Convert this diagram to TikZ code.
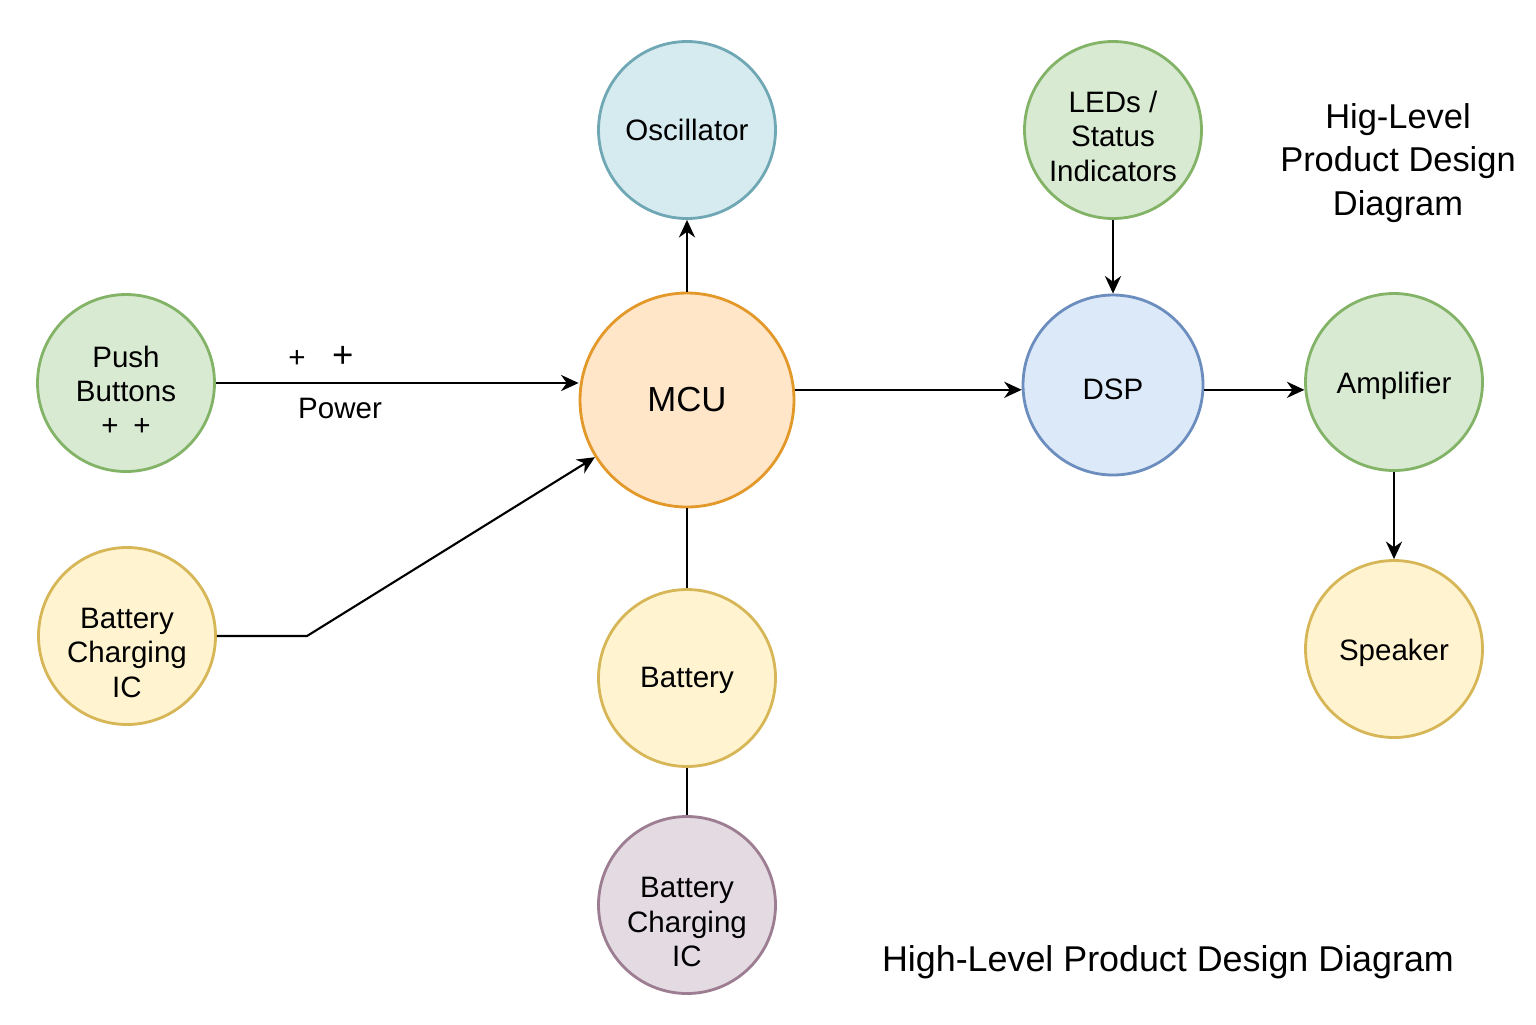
\documentclass[tikz,border=0pt]{standalone}
\usepackage{fontspec}
\setmainfont{Liberation Sans}
\usepackage{xcolor}
\usetikzlibrary{arrows.meta}

\definecolor{greenfill}{HTML}{D9EAD3}
\definecolor{greenline}{HTML}{82B366}
\definecolor{cyanfill}{HTML}{D6EBEF}
\definecolor{cyanline}{HTML}{6FA8B4}
\definecolor{orangefill}{HTML}{FFE6C8}
\definecolor{orangeline}{HTML}{E3982A}
\definecolor{bluefill}{HTML}{DCE9F8}
\definecolor{blueline}{HTML}{6C8EBF}
\definecolor{yellowfill}{HTML}{FFF4CF}
\definecolor{yellowline}{HTML}{D6B656}
\definecolor{purplefill}{HTML}{E3DAE2}
\definecolor{purpleline}{HTML}{9C7D92}

% extra room above the first line, pushes the text down in its circle
\newcommand{\padtop}[1]{\rule{0pt}{#1}}

\begin{document}
\begin{tikzpicture}[
    unit/.style={circle, line width=0.8pt, minimum size=1.77cm, inner sep=0pt, align=center, font=\fontsize{8.4}{9.8}\selectfont},
    link/.style={line width=0.6pt, black},
    arr/.style={link, -{Stealth[length=5pt, width=4.6pt]}}
]
    \useasboundingbox (0,0) rectangle (15.36,-10.24);

    \node[unit, fill=greenfill, draw=greenline] (push) at (1.26, -3.83) {\padtop{10.5pt}Push\\Buttons\\+\hspace{0.5em}+};
    \node[unit, fill=yellowfill, draw=yellowline] (chargeleft) at (1.27, -6.36) {\padtop{15.2pt}Battery\\Charging\\IC};
    \node[unit, fill=cyanfill, draw=cyanline] (osc) at (6.87, -1.30) {Oscillator};
    \node[unit, fill=orangefill, draw=orangeline, minimum size=2.14cm, font=\fontsize{9.9}{12}\selectfont] (mcu) at (6.87, -4.00) {MCU};
    \node[unit, fill=yellowfill, draw=yellowline] (battery) at (6.87, -6.78) {\padtop{7pt}Battery};
    \node[unit, fill=purplefill, draw=purpleline] (chargebottom) at (6.87, -9.05) {\padtop{15.6pt}Battery\\Charging\\IC};
    \node[unit, fill=greenfill, draw=greenline] (leds) at (11.13, -1.30) {\padtop{9.5pt}LEDs /\\Status\\Indicators};
    \node[unit, fill=bluefill, draw=blueline, minimum size=1.80cm] (dsp) at (11.13, -3.85) {\padtop{8.4pt}DSP};
    \node[unit, fill=greenfill, draw=greenline] (amp) at (13.94, -3.82) {\padtop{8.4pt}Amplifier};
    \node[unit, fill=yellowfill, draw=yellowline] (speaker) at (13.94, -6.49) {\padtop{8.4pt}Speaker};

    % labels
    \node[font=\fontsize{8.4}{9.8}\selectfont] (plus) at (3.21, -3.57) {+\hspace{0.9em}{\fontsize{10.4}{11}\selectfont+}};
    \node[font=\fontsize{8.4}{9.8}\selectfont] (power) at (3.40, -4.08) {Power};
    \node[align=center, font=\fontsize{9.8}{12.3}\selectfont] (title) at (13.98, -1.63) {Hig-Level\\Product Design\\Diagram};
    \node[font=\fontsize{10.2}{12}\selectfont] (caption) at (11.68, -9.62) {High-Level Product Design Diagram};

    \coordinate (bend) at (3.07, -6.36);

    \draw[arr] (push.east) -- (mcu.west |- push.east);
    \draw[arr] (chargeleft.east) -- (bend) -- (mcu);
    \draw[arr] (mcu) -- (osc);
    \draw[link] (mcu) -- (battery);
    \draw[link] (battery) -- (chargebottom);
    \draw[arr] (mcu.east |- dsp.183) -- (dsp.183);
    \draw[arr] (leds) -- (dsp);
    \draw[arr] (dsp.east |- amp.185) -- (amp.185);
    \draw[arr] (amp) -- (speaker);
\end{tikzpicture}
\end{document}
